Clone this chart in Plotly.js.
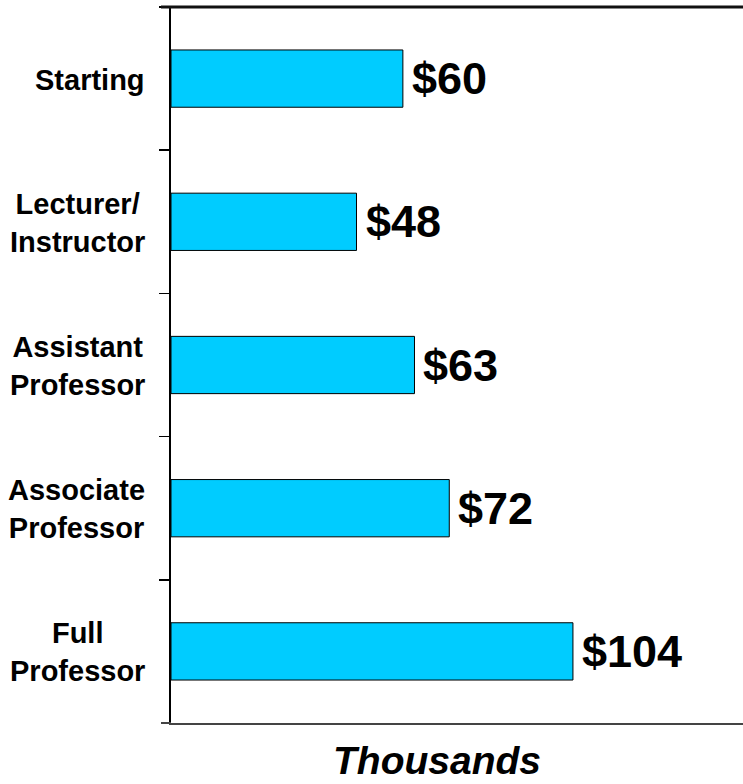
<!DOCTYPE html>
<html>
<head>
<meta charset="utf-8">
<script src="https://cdn.plot.ly/plotly-3.0.1.min.js"></script>
<style>html,body{margin:0;padding:0;background:#fff;}</style>
</head>
<body>
<div id="chart" style="width:743px;height:784px;"></div>
<script>
const categories = ["Starting", "Lecturer/<br>Instructor", "Assistant<br>Professor", "Associate<br>Professor", "Full<br>Professor"];
const salaries = [60, 48, 63, 72, 104];
const valueLabels = ["$60", "$48", "$63", "$72", "$104"];
const axisTitle = "Thousands";

const FONT = "Liberation Sans, Arial, sans-serif";
const PLOT_W = 572;

const trace = {
  type: "bar",
  orientation: "h",
  x: salaries,
  y: categories,
  marker: {color: "#00CCFF", line: {color: "#000000", width: 1}},
  hoverinfo: "none"
};

const annotations = [];
categories.forEach((c, i) => {
  annotations.push({
    x: salaries[i], y: c, xref: "x", yref: "y",
    text: valueLabels[i], showarrow: false,
    xanchor: "left", yanchor: "middle", xshift: 7,
    font: {family: FONT, size: 45, color: "#000", weight: "bold"}
  });
  annotations.push({
    x: 0, y: c, xref: "paper", yref: "y",
    text: c, showarrow: false, align: "center",
    xanchor: "right", yanchor: "middle", xshift: -24, yshift: -1,
    font: {family: FONT, size: 29, color: "#000", weight: "bold"}
  });
});
annotations.push({
  x: 0.465, y: 0, xref: "paper", yref: "paper",
  text: axisTitle, showarrow: false,
  xanchor: "center", yanchor: "top", yshift: -14,
  font: {family: FONT, size: 39, color: "#000", weight: "bold", style: "italic"}
});

const stub = -10 / PLOT_W;

const layout = {
  width: 743, height: 784,
  margin: {l: 171, r: 0, t: 7, b: 61, pad: 0, autoexpand: false},
  paper_bgcolor: "#fff", plot_bgcolor: "#fff",
  showlegend: false,
  bargap: 0.6,
  xaxis: {
    range: [0, 148], showgrid: false, zeroline: false,
    showticklabels: false, ticks: "",
    showline: true, linecolor: "#444", linewidth: 2
  },
  yaxis: {
    autorange: "reversed", type: "category",
    showgrid: false, zeroline: false,
    showticklabels: false,
    ticks: "outside", tickson: "boundaries", ticklen: 10, tickwidth: 1.5, tickcolor: "#000",
    showline: true, linecolor: "#000", linewidth: 2
  },
  shapes: [
    {type: "line", xref: "paper", yref: "paper", x0: stub, x1: 1, y0: 1, y1: 1, layer: "above", line: {color: "#111111", width: 3}},
    {type: "line", xref: "paper", yref: "paper", x0: stub, x1: 0, y0: 0, y1: 0, line: {color: "#444", width: 2}}
  ],
  annotations: annotations
};

Plotly.newPlot("chart", [trace], layout, {displayModeBar: false, staticPlot: true});
</script>
</body>
</html>
